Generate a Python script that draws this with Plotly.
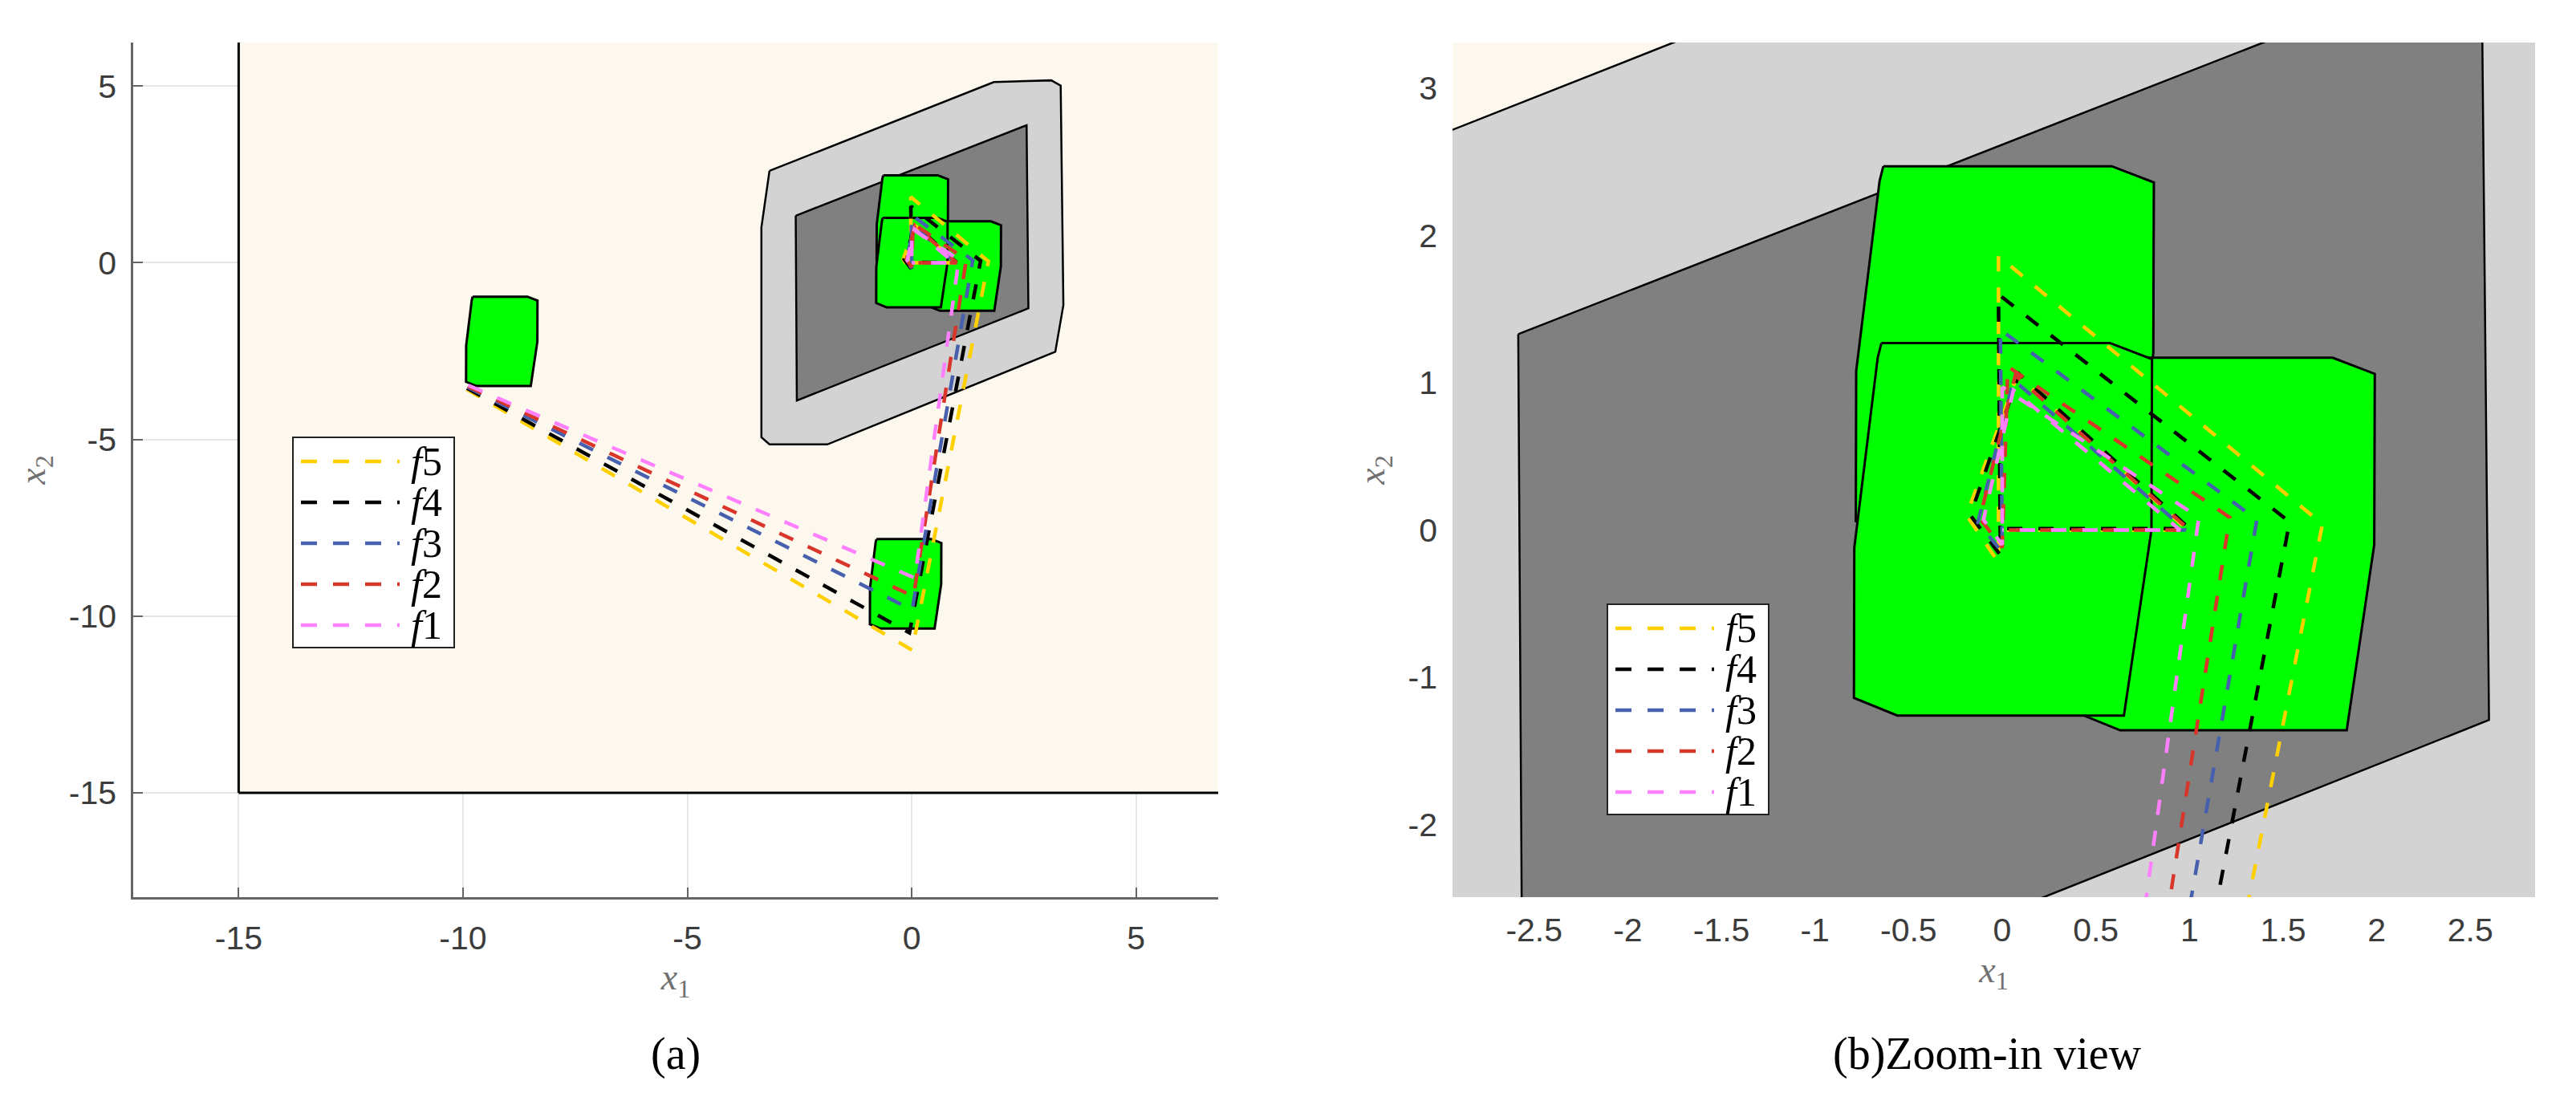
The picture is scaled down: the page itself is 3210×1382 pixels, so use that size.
import plotly.graph_objects as go
from plotly.subplots import make_subplots

# workspace regions, (x1, x2) coordinates
free_x = [-15, 40, 40, -15, -15]
free_y = [-15, -15, 40, 40, -15]

outer_x = [-3.17, 1.83, 3.11, 3.32, 3.38, 3.20, -1.88, -3.17, -3.35, -3.35, -3.17]
outer_y = [2.60, 5.11, 5.16, 5.01, -1.20, -2.52, -5.14, -5.14, -4.94, 1.00, 2.60]

inner_x = [-2.585, 2.56, 2.60, -2.56, -2.585]
inner_y = [1.33, 3.89, -1.29, -3.90, 1.33]

# target set outline and the places where it is copied to
box_x = [-0.645, 0.575, 0.80, 0.797, 0.65, -0.56, -0.792, -0.79, -0.665, -0.645]
box_y = [1.27, 1.27, 1.16, 0.0, -1.26, -1.26, -1.14, -0.12, 1.17, 1.27]
box_dx = [-9.14, -0.14, 0.01, 1.19, 0.0]
box_dy = [-2.23, -9.09, 1.20, -0.10, 0.0]

# trajectories
f5_x = [-9.92, 0.01, 1.71, -0.02, -0.02, -0.19, 0.08, 0.99, 0.0]
f5_y = [-3.58, -10.96, 0.04, 1.86, -0.22, 0.10, 1.05, 0.0, 0.0]
f4_x = [-9.91, -0.05, 1.535, -0.02, -0.01, -0.17, 0.09, 1.0, 0.0]
f4_y = [-3.55, -10.47, 0.055, 1.60, -0.17, 0.10, 1.06, 0.01, 0.01]
f3_x = [-9.90, 0.01, 1.36, -0.01, 0.0, -0.13, 0.06, 0.98, 0.0]
f3_y = [-3.52, -9.82, 0.07, 1.36, -0.15, 0.05, 1.02, 0.0, 0.0]
f2_x = [-9.89, 0.04, 1.215, 0.03, 0.0, -0.12, 0.07, 1.0, 0.0]
f2_y = [-3.50, -9.44, 0.085, 1.11, -0.12, 0.08, 1.05, 0.0, 0.0]
f1_x = [-9.88, 0.07, 1.05, 0.0, 0.0, -0.10, 0.06, 0.95, 0.0]
f1_y = [-3.47, -8.92, 0.085, 0.97, -0.10, 0.07, 0.95, 0.0, 0.0]

names = ['f5', 'f4', 'f3', 'f2', 'f1']
colors = ['#FFD000', '#000000', '#4660AE', '#D8362B', '#FF80FF']
paths = [(f5_x, f5_y), (f4_x, f4_y), (f3_x, f3_y), (f2_x, f2_y), (f1_x, f1_y)]

W, H = 3210, 1382
DASH = '19px,20px'

fig = make_subplots(rows=1, cols=2)

for col in [1, 2]:
    fig.add_trace(go.Scatter(x=free_x, y=free_y, mode='lines', fill='toself',
                             fillcolor='#FDF8EE', line=dict(color='black', width=3),
                             showlegend=False, hoverinfo='skip'), row=1, col=col)
    fig.add_trace(go.Scatter(x=outer_x, y=outer_y, mode='lines', fill='toself',
                             fillcolor='#D3D3D3', line=dict(color='black', width=2.5),
                             showlegend=False, hoverinfo='skip'), row=1, col=col)
    fig.add_trace(go.Scatter(x=inner_x, y=inner_y, mode='lines', fill='toself',
                             fillcolor='#808080', line=dict(color='black', width=2.5),
                             showlegend=False, hoverinfo='skip'), row=1, col=col)
    for dx, dy in zip(box_dx, box_dy):
        fig.add_trace(go.Scatter(x=[v + dx for v in box_x], y=[v + dy for v in box_y],
                                 mode='lines', fill='toself', fillcolor='#00FF00',
                                 line=dict(color='black', width=3),
                                 showlegend=False, hoverinfo='skip'), row=1, col=col)
    for name, c, (px, py) in zip(names, colors, paths):
        fig.add_trace(go.Scatter(x=px, y=py, mode='lines', name=name,
                                 line=dict(color=c, width=4.5, dash=DASH),
                                 showlegend=False), row=1, col=col)

tickfont = dict(family='Liberation Sans, Arial', size=41, color='#3c3c3c')
titlefont = dict(family='Liberation Serif, Times New Roman', size=46, color='#707070')

fig.update_xaxes(range=[-17.35, 6.83], domain=[166 / W, 1518 / W],
                 tickvals=[-15, -10, -5, 0, 5], ticktext=['-15', '-10', '-5', '0', '5'],
                 showgrid=True, gridcolor='#e6e6e6', gridwidth=2, zeroline=False,
                 showline=True, linecolor='#666', linewidth=2.5,
                 ticks='inside', ticklen=12, tickwidth=2, tickcolor='#666',
                 tickfont=tickfont, ticklabelstandoff=13, layer='below traces',
                 title=dict(text='<i>x</i><sub>1</sub>', font=titlefont, standoff=10),
                 row=1, col=1)
fig.update_yaxes(range=[-17.95, 6.23], domain=[1 - 1118 / H, 1 - 53 / H],
                 tickvals=[-15, -10, -5, 0, 5], ticktext=['-15', '-10', '-5', '0', '5'],
                 showgrid=True, gridcolor='#e6e6e6', gridwidth=2, zeroline=False,
                 showline=True, linecolor='#666', linewidth=2.5,
                 ticks='inside', ticklen=12, tickwidth=2, tickcolor='#666',
                 tickfont=tickfont, ticklabelstandoff=10, layer='below traces',
                 title=dict(text='<i>x</i><sub>2</sub>', font=titlefont, standoff=15),
                 row=1, col=1)

xt2 = [-2.5, -2, -1.5, -1, -0.5, 0, 0.5, 1, 1.5, 2, 2.5]
yt2 = [-2, -1, 0, 1, 2, 3]
fig.update_xaxes(range=[-2.936, 2.846], domain=[1810 / W, 3159 / W],
                 tickvals=xt2, ticktext=['-2.5', '-2', '-1.5', '-1', '-0.5', '0', '0.5', '1', '1.5', '2', '2.5'],
                 showgrid=False, zeroline=False, showline=False, ticks='',
                 tickfont=tickfont, ticklabelstandoff=13,
                 title=dict(text='<i>x</i><sub>1</sub>', font=titlefont, standoff=10),
                 row=1, col=2)
fig.update_yaxes(range=[-2.493, 3.31], domain=[1 - 1118 / H, 1 - 53 / H],
                 tickvals=yt2, ticktext=['-2', '-1', '0', '1', '2', '3'],
                 showgrid=False, zeroline=False, showline=False, ticks='',
                 tickfont=tickfont, ticklabelstandoff=18,
                 title=dict(text='<i>x</i><sub>2</sub>', font=titlefont, standoff=14),
                 row=1, col=2)


def add_key(left, top):
    fig.add_shape(type='rect', xref='paper', yref='paper',
                  x0=left / W, x1=(left + 201) / W, y0=1 - top / H, y1=1 - (top + 262) / H,
                  line=dict(color='#222', width=2), fillcolor='white')
    for i, (name, c) in enumerate(zip(names, colors)):
        yy = 1 - (top + 30 + 51 * i) / H
        fig.add_shape(type='line', xref='paper', yref='paper',
                      x0=(left + 10) / W, x1=(left + 133) / W, y0=yy, y1=yy,
                      line=dict(color=c, width=4.5, dash='20px,20px'))
        fig.add_annotation(xref='paper', yref='paper', x=(left + 145) / W, y=yy,
                           text='<i>f</i>' + name[1], showarrow=False,
                           xanchor='left', yanchor='middle',
                           font=dict(family='Liberation Serif, Times New Roman', size=50, color='black'))


add_key(365, 545)
add_key(2003, 753)

capfont = dict(family='Liberation Serif, Times New Roman', size=56, color='black')
fig.add_annotation(xref='paper', yref='paper', x=842 / W, y=1 - 1313 / H, text='(a)',
                   showarrow=False, xanchor='center', yanchor='middle', font=capfont)
fig.add_annotation(xref='paper', yref='paper', x=2476 / W, y=1 - 1313 / H, text='(b)Zoom-in view',
                   showarrow=False, xanchor='center', yanchor='middle', font=capfont)

fig.update_layout(width=W, height=H, margin=dict(l=0, r=0, t=0, b=0),
                  plot_bgcolor='white', paper_bgcolor='white', showlegend=False)

fig.write_html("out.html", config={'displayModeBar': False},
               post_script="document.body.style.margin='0px';")
